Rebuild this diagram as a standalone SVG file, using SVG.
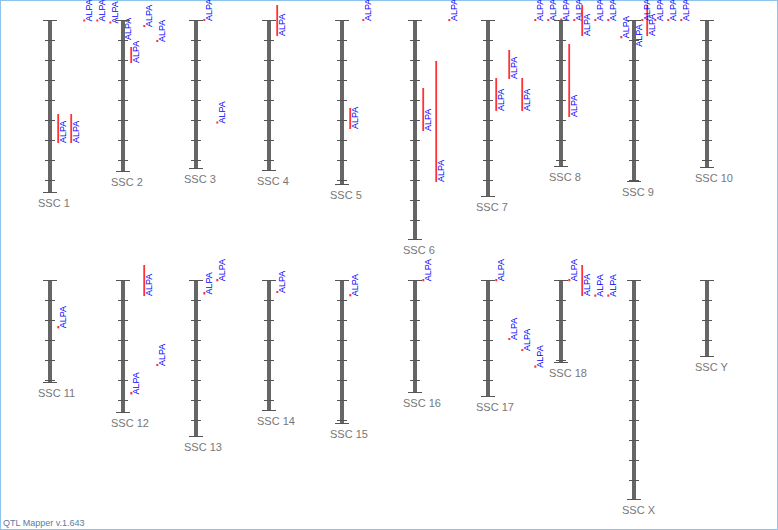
<svg xmlns="http://www.w3.org/2000/svg" width="778" height="530" viewBox="0 0 778 530">
<style>
.bar{fill:#666}
.tk{stroke:#555;stroke-width:1;fill:none}
.nm{font-family:"Liberation Sans",Arial,sans-serif;font-size:11px;fill:#777}
.q{fill:#f33}
.ql{font-family:"Liberation Sans",Arial,sans-serif;font-size:9px;fill:#00f}
.ft{font-family:"Liberation Sans",Arial,sans-serif;font-size:9px;fill:#5b7ba3}
</style>
<rect x="0" y="0" width="778" height="530" fill="#fff"/>
<rect x="0.5" y="0.5" width="777" height="529" fill="none" stroke="#8ec3ee"/>

<g id="ssc1"><rect class="bar" x="48" y="20" width="4" height="173"/><path class="tk" d="M43 20.5h14M43 192.5h14M45 40.5h10M45 60.5h10M45 80.5h10M45 100.5h10M45 120.5h10M45 140.5h10M45 160.5h10M45 180.5h10"/><text class="nm" x="38" y="207">SSC 1</text></g>
<g id="qtl-ssc1">
<rect class="q" x="57.3" y="114" width="1.8" height="29"/><text class="ql" transform="translate(65.8,143) rotate(-90)">ALPA</text>
<rect class="q" x="70.3" y="114" width="1.8" height="29"/><text class="ql" transform="translate(78.8,143) rotate(-90)">ALPA</text>
<rect class="q" x="83.3" y="19.5" width="2" height="2"/><text class="ql" transform="translate(91.8,21.5) rotate(-90)">ALPA</text>
<rect class="q" x="96.3" y="19.5" width="2" height="2"/><text class="ql" transform="translate(104.8,21.5) rotate(-90)">ALPA</text>
<rect class="q" x="109.3" y="21.5" width="2" height="2"/><text class="ql" transform="translate(117.8,23.5) rotate(-90)">ALPA</text>
<rect class="q" x="122.3" y="38" width="2" height="2"/><text class="ql" transform="translate(130.8,40) rotate(-90)">ALPA</text>
</g>

<g id="ssc2"><rect class="bar" x="121" y="20" width="4" height="152"/><path class="tk" d="M116 20.5h14M116 171.5h14M118 40.5h10M118 60.5h10M118 80.5h10M118 100.5h10M118 120.5h10M118 140.5h10M118 160.5h10"/><text class="nm" x="111" y="186">SSC 2</text></g>
<g id="qtl-ssc2">
<rect class="q" x="130.3" y="47" width="1.8" height="16"/><text class="ql" transform="translate(138.8,63) rotate(-90)">ALPA</text>
<rect class="q" x="143.3" y="25" width="2" height="2"/><text class="ql" transform="translate(151.8,27) rotate(-90)">ALPA</text>
<rect class="q" x="156.3" y="40" width="2" height="2"/><text class="ql" transform="translate(164.8,42) rotate(-90)">ALPA</text>
</g>

<g id="ssc3"><rect class="bar" x="194" y="20" width="4" height="149"/><path class="tk" d="M189 20.5h14M189 168.5h14M191 40.5h10M191 60.5h10M191 80.5h10M191 100.5h10M191 120.5h10M191 140.5h10M191 160.5h10"/><text class="nm" x="184" y="183">SSC 3</text></g>
<g id="qtl-ssc3">
<rect class="q" x="203.3" y="19" width="2" height="2"/><text class="ql" transform="translate(211.8,21) rotate(-90)">ALPA</text>
<rect class="q" x="216.3" y="121.5" width="2" height="2"/><text class="ql" transform="translate(224.8,123.5) rotate(-90)">ALPA</text>
</g>

<g id="ssc4"><rect class="bar" x="267" y="20" width="4" height="151"/><path class="tk" d="M262 20.5h14M262 170.5h14M264 40.5h10M264 60.5h10M264 80.5h10M264 100.5h10M264 120.5h10M264 140.5h10M264 160.5h10"/><text class="nm" x="257" y="185">SSC 4</text></g>
<g id="qtl-ssc4">
<rect class="q" x="276.3" y="5" width="1.8" height="31"/><text class="ql" transform="translate(284.8,36) rotate(-90)">ALPA</text>
</g>

<g id="ssc5"><rect class="bar" x="340" y="20" width="4" height="165"/><path class="tk" d="M335 20.5h14M335 184.5h14M337 40.5h10M337 60.5h10M337 80.5h10M337 100.5h10M337 120.5h10M337 140.5h10M337 160.5h10M337 180.5h10"/><text class="nm" x="330" y="199">SSC 5</text></g>
<g id="qtl-ssc5">
<rect class="q" x="349.3" y="108" width="1.8" height="21"/><text class="ql" transform="translate(357.8,129) rotate(-90)">ALPA</text>
<rect class="q" x="362.3" y="19" width="2" height="2"/><text class="ql" transform="translate(370.8,21) rotate(-90)">ALPA</text>
</g>

<g id="ssc6"><rect class="bar" x="413" y="20" width="4" height="220"/><path class="tk" d="M408 20.5h14M408 239.5h14M410 40.5h10M410 60.5h10M410 80.5h10M410 100.5h10M410 120.5h10M410 140.5h10M410 160.5h10M410 180.5h10M410 200.5h10M410 220.5h10"/><text class="nm" x="403" y="254">SSC 6</text></g>
<g id="qtl-ssc6">
<rect class="q" x="422.3" y="88" width="1.8" height="43"/><text class="ql" transform="translate(430.8,131) rotate(-90)">ALPA</text>
<rect class="q" x="435.3" y="61" width="1.8" height="121"/><text class="ql" transform="translate(443.8,182) rotate(-90)">ALPA</text>
<rect class="q" x="448.3" y="19" width="2" height="2"/><text class="ql" transform="translate(456.8,21) rotate(-90)">ALPA</text>
</g>

<g id="ssc7"><rect class="bar" x="486" y="20" width="4" height="177"/><path class="tk" d="M481 20.5h14M481 196.5h14M483 40.5h10M483 60.5h10M483 80.5h10M483 100.5h10M483 120.5h10M483 140.5h10M483 160.5h10M483 180.5h10"/><text class="nm" x="476" y="211">SSC 7</text></g>
<g id="qtl-ssc7">
<rect class="q" x="495.3" y="78" width="1.8" height="33"/><text class="ql" transform="translate(503.8,111) rotate(-90)">ALPA</text>
<rect class="q" x="508.3" y="50" width="1.8" height="29"/><text class="ql" transform="translate(516.8,79) rotate(-90)">ALPA</text>
<rect class="q" x="521.3" y="78" width="1.8" height="33"/><text class="ql" transform="translate(529.8,111) rotate(-90)">ALPA</text>
<rect class="q" x="534.3" y="19" width="2" height="2"/><text class="ql" transform="translate(542.8,21) rotate(-90)">ALPA</text>
<rect class="q" x="547.3" y="19" width="2" height="2"/><text class="ql" transform="translate(555.8,21) rotate(-90)">ALPA</text>
<rect class="q" x="560.3" y="18.5" width="2" height="2"/><text class="ql" transform="translate(568.8,21) rotate(-90)">ALPA</text>
<rect class="q" x="573.3" y="19" width="2" height="2"/><text class="ql" transform="translate(581.8,21) rotate(-90)">ALPA</text>
</g>

<g id="ssc8"><rect class="bar" x="559" y="20" width="4" height="147"/><path class="tk" d="M554 20.5h14M554 166.5h14M556 40.5h10M556 60.5h10M556 80.5h10M556 100.5h10M556 120.5h10M556 140.5h10M556 160.5h10"/><text class="nm" x="549" y="181">SSC 8</text></g>
<g id="qtl-ssc8">
<rect class="q" x="568.3" y="44" width="1.8" height="73"/><text class="ql" transform="translate(576.8,117) rotate(-90)">ALPA</text>
<rect class="q" x="581.3" y="5" width="1.8" height="31"/><text class="ql" transform="translate(589.8,36) rotate(-90)">ALPA</text>
<rect class="q" x="594.3" y="19" width="2" height="2"/><text class="ql" transform="translate(602.8,21) rotate(-90)">ALPA</text>
<rect class="q" x="607.3" y="19" width="2" height="2"/><text class="ql" transform="translate(615.8,21) rotate(-90)">ALPA</text>
<rect class="q" x="620.3" y="36" width="2" height="2.3"/><text class="ql" transform="translate(628.8,38.3) rotate(-90)">ALPA</text>
<rect class="q" x="633.3" y="44.5" width="2" height="2.2"/><text class="ql" transform="translate(641.8,46.7) rotate(-90)">ALPA</text>
<rect class="q" x="646.3" y="5" width="1.8" height="31"/><text class="ql" transform="translate(654.8,36) rotate(-90)">ALPA</text>
</g>

<g id="ssc9"><rect class="bar" x="632" y="20" width="4" height="162"/><path class="tk" d="M627 20.5h14M627 181.5h14M629 40.5h10M629 60.5h10M629 80.5h10M629 100.5h10M629 120.5h10M629 140.5h10M629 160.5h10M629 180.5h10"/><text class="nm" x="622" y="196">SSC 9</text></g>
<g id="qtl-ssc9">
<rect class="q" x="641.3" y="19" width="2" height="2"/><text class="ql" transform="translate(649.8,21) rotate(-90)">ALPA</text>
<rect class="q" x="654.3" y="19" width="2" height="2"/><text class="ql" transform="translate(662.8,21) rotate(-90)">ALPA</text>
<rect class="q" x="667.3" y="19" width="2" height="2"/><text class="ql" transform="translate(675.8,21) rotate(-90)">ALPA</text>
<rect class="q" x="680.3" y="19" width="2" height="2"/><text class="ql" transform="translate(688.8,21) rotate(-90)">ALPA</text>
</g>

<g id="ssc10"><rect class="bar" x="705" y="20" width="4" height="148"/><path class="tk" d="M700 20.5h14M700 167.5h14M702 40.5h10M702 60.5h10M702 80.5h10M702 100.5h10M702 120.5h10M702 140.5h10M702 160.5h10"/><text class="nm" x="695" y="182">SSC 10</text></g>

<g id="ssc11"><rect class="bar" x="48" y="280" width="4" height="103"/><path class="tk" d="M43 280.5h14M43 382.5h14M45 300.5h10M45 320.5h10M45 340.5h10M45 360.5h10M45 380.5h10"/><text class="nm" x="38" y="397">SSC 11</text></g>
<g id="qtl-ssc11">
<rect class="q" x="57.3" y="326" width="2" height="2.3"/><text class="ql" transform="translate(65.8,328.3) rotate(-90)">ALPA</text>
</g>

<g id="ssc12"><rect class="bar" x="121" y="280" width="4" height="133"/><path class="tk" d="M116 280.5h14M116 412.5h14M118 300.5h10M118 320.5h10M118 340.5h10M118 360.5h10M118 380.5h10M118 400.5h10"/><text class="nm" x="111" y="427">SSC 12</text></g>
<g id="qtl-ssc12">
<rect class="q" x="130.3" y="392" width="2" height="2.5"/><text class="ql" transform="translate(138.8,394.5) rotate(-90)">ALPA</text>
<rect class="q" x="143.3" y="265" width="1.8" height="31"/><text class="ql" transform="translate(151.8,296) rotate(-90)">ALPA</text>
<rect class="q" x="156.3" y="364" width="2" height="2"/><text class="ql" transform="translate(164.8,366) rotate(-90)">ALPA</text>
</g>

<g id="ssc13"><rect class="bar" x="194" y="280" width="4" height="157"/><path class="tk" d="M189 280.5h14M189 436.5h14M191 300.5h10M191 320.5h10M191 340.5h10M191 360.5h10M191 380.5h10M191 400.5h10M191 420.5h10"/><text class="nm" x="184" y="451">SSC 13</text></g>
<g id="qtl-ssc13">
<rect class="q" x="203.3" y="292" width="2" height="2.5"/><text class="ql" transform="translate(211.8,294.5) rotate(-90)">ALPA</text>
<rect class="q" x="216.3" y="279" width="2" height="2.3"/><text class="ql" transform="translate(224.8,281.3) rotate(-90)">ALPA</text>
</g>

<g id="ssc14"><rect class="bar" x="267" y="280" width="4" height="131"/><path class="tk" d="M262 280.5h14M262 410.5h14M264 300.5h10M264 320.5h10M264 340.5h10M264 360.5h10M264 380.5h10M264 400.5h10"/><text class="nm" x="257" y="425">SSC 14</text></g>
<g id="qtl-ssc14">
<rect class="q" x="276.3" y="291" width="2" height="2"/><text class="ql" transform="translate(284.8,293) rotate(-90)">ALPA</text>
</g>

<g id="ssc15"><rect class="bar" x="340" y="280" width="4" height="144"/><path class="tk" d="M335 280.5h14M335 423.5h14M337 300.5h10M337 320.5h10M337 340.5h10M337 360.5h10M337 380.5h10M337 400.5h10M337 420.5h10"/><text class="nm" x="330" y="438">SSC 15</text></g>
<g id="qtl-ssc15">
<rect class="q" x="349.3" y="294" width="2" height="2.3"/><text class="ql" transform="translate(357.8,296.3) rotate(-90)">ALPA</text>
</g>

<g id="ssc16"><rect class="bar" x="413" y="280" width="4" height="113"/><path class="tk" d="M408 280.5h14M408 392.5h14M410 300.5h10M410 320.5h10M410 340.5h10M410 360.5h10M410 380.5h10"/><text class="nm" x="403" y="407">SSC 16</text></g>
<g id="qtl-ssc16">
<rect class="q" x="422.3" y="279" width="2" height="2.3"/><text class="ql" transform="translate(430.8,281.3) rotate(-90)">ALPA</text>
</g>

<g id="ssc17"><rect class="bar" x="486" y="280" width="4" height="117"/><path class="tk" d="M481 280.5h14M481 396.5h14M483 300.5h10M483 320.5h10M483 340.5h10M483 360.5h10M483 380.5h10"/><text class="nm" x="476" y="411">SSC 17</text></g>
<g id="qtl-ssc17">
<rect class="q" x="495.3" y="279" width="2" height="2.3"/><text class="ql" transform="translate(503.8,281.3) rotate(-90)">ALPA</text>
<rect class="q" x="508.3" y="338" width="2" height="2"/><text class="ql" transform="translate(516.8,340) rotate(-90)">ALPA</text>
<rect class="q" x="521.3" y="349" width="2" height="2"/><text class="ql" transform="translate(529.8,351) rotate(-90)">ALPA</text>
<rect class="q" x="534.3" y="365.5" width="2" height="2.2"/><text class="ql" transform="translate(542.8,367.7) rotate(-90)">ALPA</text>
</g>

<g id="ssc18"><rect class="bar" x="559" y="280" width="4" height="83"/><path class="tk" d="M554 280.5h14M554 362.5h14M556 300.5h10M556 320.5h10M556 340.5h10M556 360.5h10"/><text class="nm" x="549" y="377">SSC 18</text></g>
<g id="qtl-ssc18">
<rect class="q" x="568.3" y="279" width="2" height="2.3"/><text class="ql" transform="translate(576.8,281.3) rotate(-90)">ALPA</text>
<rect class="q" x="581.3" y="265" width="1.8" height="31"/><text class="ql" transform="translate(589.8,296) rotate(-90)">ALPA</text>
<rect class="q" x="594.3" y="294.5" width="2" height="2.2"/><text class="ql" transform="translate(602.8,296.7) rotate(-90)">ALPA</text>
<rect class="q" x="607.3" y="294.5" width="2" height="2.2"/><text class="ql" transform="translate(615.8,296.7) rotate(-90)">ALPA</text>
</g>

<g id="sscX"><rect class="bar" x="632" y="280" width="4" height="220"/><path class="tk" d="M627 280.5h14M627 499.5h14M629 300.5h10M629 320.5h10M629 340.5h10M629 360.5h10M629 380.5h10M629 400.5h10M629 420.5h10M629 440.5h10M629 460.5h10M629 480.5h10"/><text class="nm" x="622" y="514">SSC X</text></g>

<g id="sscY"><rect class="bar" x="705" y="280" width="4" height="77"/><path class="tk" d="M700 280.5h14M700 356.5h14M702 300.5h10M702 320.5h10M702 340.5h10"/><text class="nm" x="695" y="371">SSC Y</text></g>

<text class="ft" x="3" y="526">QTL Mapper v.1.643</text>
</svg>
